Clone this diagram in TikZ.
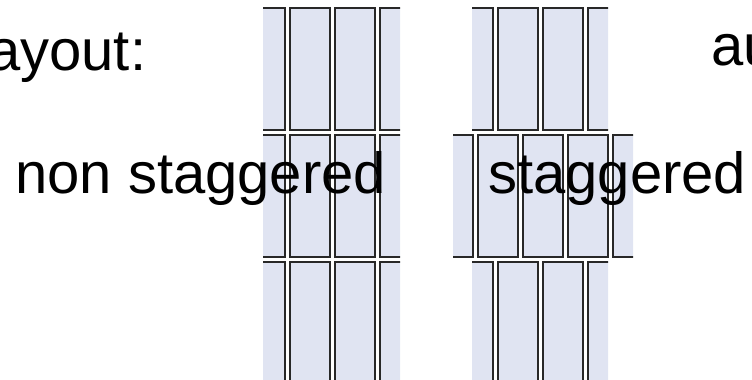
\documentclass[tikz,border=0pt]{standalone}
\usepackage{fontspec}
\setmainfont{Liberation Sans}
\usepackage{tikz}
\usepackage{color}
\usetikzlibrary{positioning}
\definecolor{modfill}{RGB}{224,228,242}
\definecolor{modline}{RGB}{40,40,40}

\begin{document}
\begin{tikzpicture}[x=1pt, y=-1pt,
					module/.style={fill=modfill, draw=modline, line width=1.6pt},
					label/.style={anchor=base west, inner sep=0pt, font=\fontsize{58}{60}\selectfont}
				]
				\useasboundingbox (0,0) rectangle (752,380);
				% non staggered
				\begin{scope}
				\clip (263,6) rectangle (400,380);
				\foreach \x in {245,290,335,380} {
					\foreach \y in {8,135,262} {
						\draw[module] (\x,\y) rectangle ++(40,122);
					}
				}
				\end{scope}
				% staggered, outer rows
				\begin{scope}
				\clip (472,6) rectangle (608,132.5) (472,259.5) rectangle (608,380);
				\foreach \x in {453,498,543,588} {
					\draw[module] (\x,8) rectangle ++(40,122);
					\draw[module] (\x,262) rectangle ++(40,122);
				}
				\end{scope}
				% staggered, middle row
				\begin{scope}
				\clip (453,132.5) rectangle (633,259.5);
				\foreach \x in {433,478,523,568,613} {
					\draw[module] (\x,135) rectangle ++(40,122);
				}
				\end{scope}
				\node[label] (layout) at (-12,70) {ayout:};
				\node[label] (auto) at (711,65) {au};
				\node[label] (nonstag) at (15,193) {non staggered};
				\node[label] (stag) at (488,193) {staggered};
				\end{tikzpicture}
\end{document}
